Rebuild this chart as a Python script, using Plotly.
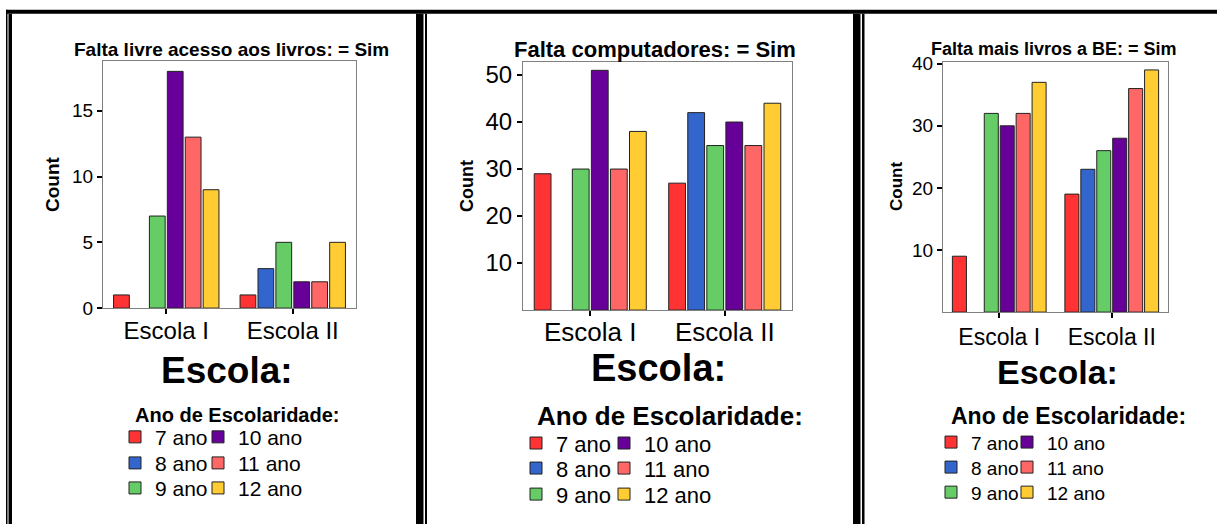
import plotly.graph_objects as go

W, H = 1217, 536

# ---------------- data ----------------
schools = ["Escola I", "Escola II"]
grades = ["7 ano", "8 ano", "9 ano", "10 ano", "11 ano", "12 ano"]
colors = ["#FF3333", "#3366CC", "#66CC66", "#660099", "#FF6666", "#FFCC33"]

titles = ["Falta livre acesso aos livros: = Sim",
          "Falta computadores: = Sim",
          "Falta mais livros a BE: = Sim"]

# counts per grade (7..12 ano); None = no bar
acesso_escola1 = [1, None, 7, 18, 13, 9]
acesso_escola2 = [1, 3, 5, 2, 2, 5]
comput_escola1 = [29, None, 30, 51, 30, 38]
comput_escola2 = [27, 42, 35, 40, 35, 44]
livros_escola1 = [9, None, 32, 30, 32, 37]
livros_escola2 = [19, 23, 26, 28, 36, 39]

ticks_acesso = [0, 5, 10, 15]
ticks_comput = [10, 20, 30, 40, 50]
ticks_livros = [10, 20, 30, 40]

y_label = "Count"
x_label = "Escola:"
legend_label = "Ano de Escolaridade:"

panel_data = [(acesso_escola1, acesso_escola2),
              (comput_escola1, comput_escola2),
              (livros_escola1, livros_escola2)]
panel_ticks = [ticks_acesso, ticks_comput, ticks_livros]

# ---------------- layout (pixels) ----------------
FONT = "Liberation Sans, Arial, sans-serif"

# the page is photographed with a small vertical offset/scale; positions
# below are given in picture pixels and mapped to figure pixels here
OY, SY = 8.2, 0.9636


def px(x):
    return x / W


def py(y):
    return 1 - ((y - OY) / SY) / H


panels = [
    dict(x0=103, x1=356, y0=61, y1=308, yr=18.8,
         title=(232, 50, 19), count=(53, 184, 19), xlab=(227, 370, 37),
         tick=19, xtick=24, xstand=-4, legt=(133, 415, 20), leg_font=21,
         sq1=129, sq2=212, rows=[437, 463, 488]),
    dict(x0=523, x1=792, y0=62, y1=310, yr=52.8,
         title=(655, 50, 22), count=(467, 186, 18), xlab=(658, 368, 38),
         tick=24, xtick=26, xstand=-6, legt=(535, 416, 26), leg_font=22,
         sq1=530, sq2=618, rows=[443, 468, 494]),
    dict(x0=943, x1=1168, y0=62, y1=312, yr=40.3,
         title=(1054, 49, 18), count=(897, 187, 17), xlab=(1057, 372, 34),
         tick=19, xtick=23, xstand=-1, legt=(949, 416, 23), leg_font=19,
         sq1=945, sq2=1021, rows=[442, 467, 492]),
]

fig = go.Figure()
annotations = []
shapes = []

for p, cfg in enumerate(panels):
    xa = "x" if p == 0 else f"x{p + 1}"
    ya = "y" if p == 0 else f"y{p + 1}"
    e1, e2 = panel_data[p]
    for i, g in enumerate(grades):
        row, col = i % 3, i // 3
        lid = 6 * p + 2 * row + col + 1
        lname = "legend" if lid == 1 else f"legend{lid}"
        fig.add_trace(go.Bar(
            x=schools, y=[e1[i], e2[i]], name=g,
            marker=dict(color=colors[i], line=dict(color="#222222", width=1)),
            xaxis=xa, yaxis=ya, legend=lname, showlegend=True,
            hovertemplate="%{x}<br>" + g + ": %{y}<extra></extra>",
        ))
        sq = cfg["sq1"] if col == 0 else cfg["sq2"]
        fig.update_layout(**{lname: dict(
            orientation="v", x=px(sq - 14), xanchor="left",
            y=py(cfg["rows"][row]), yanchor="middle",
            font=dict(family=FONT, size=cfg["leg_font"], color="black"),
            itemwidth=30, bgcolor="rgba(0,0,0,0)", borderwidth=0,
        )})

    xkey = "xaxis" if p == 0 else f"xaxis{p + 1}"
    ykey = "yaxis" if p == 0 else f"yaxis{p + 1}"
    fig.update_layout(**{
        xkey: dict(domain=[px(cfg["x0"]), px(cfg["x1"])], anchor=ya,
                   type="category", showline=True, linecolor="#808080",
                   linewidth=1, mirror=True, ticks="outside", ticklen=5,
                   tickwidth=2, tickcolor="black", showgrid=False,
                   zeroline=False, ticklabelstandoff=cfg["xstand"],
                   tickfont=dict(family=FONT, size=cfg["xtick"], color="black")),
        ykey: dict(domain=[py(cfg["y1"]), py(cfg["y0"])], anchor=xa,
                   range=[0, cfg["yr"]], tickmode="array",
                   tickvals=panel_ticks[p], showline=True,
                   linecolor="#808080", linewidth=1, mirror=True,
                   ticks="outside", ticklen=5, tickwidth=2, tickcolor="black",
                   showgrid=False, zeroline=False,
                   tickfont=dict(family=FONT, size=cfg["tick"], color="black")),
    })

    tx, ty, ts = cfg["title"]
    annotations.append(dict(text=f"<b>{titles[p]}</b>", x=px(tx), y=py(ty),
                            xref="paper", yref="paper", showarrow=False,
                            xanchor="center", yanchor="middle",
                            font=dict(family=FONT, size=ts, color="black")))
    cx, cy, cs = cfg["count"]
    annotations.append(dict(text=f"<b>{y_label}</b>", x=px(cx), y=py(cy),
                            xref="paper", yref="paper", showarrow=False,
                            textangle=-90, xanchor="center", yanchor="middle",
                            font=dict(family=FONT, size=cs, color="black")))
    lx, ly, ls = cfg["xlab"]
    annotations.append(dict(text=f"<b>{x_label}</b>", x=px(lx), y=py(ly),
                            xref="paper", yref="paper", showarrow=False,
                            xanchor="center", yanchor="middle",
                            font=dict(family=FONT, size=ls, color="black")))
    gx, gy, gs = cfg["legt"]
    annotations.append(dict(text=f"<b>{legend_label}</b>", x=px(gx), y=py(gy),
                            xref="paper", yref="paper", showarrow=False,
                            xanchor="left", yanchor="middle",
                            font=dict(family=FONT, size=gs, color="black")))


def rect(x0, x1, y0, y1):
    shapes.append(dict(type="rect", xref="paper", yref="paper",
                       x0=px(x0), x1=px(x1), y0=py(y1), y1=py(y0),
                       fillcolor="black", line=dict(width=0), layer="above"))


# frame: top rule and double vertical separators
BOTTOM = 560
rect(6, W + 5, 10, 14)
rect(6, 7.5, 10, BOTTOM)
rect(8.5, 12, 14, BOTTOM)
rect(416, 423.5, 14, BOTTOM)
rect(425, 427, 14, BOTTOM)
rect(853, 860.5, 14, BOTTOM)
rect(862, 864.5, 14, BOTTOM)

fig.update_layout(
    width=W, height=H, margin=dict(l=0, r=0, t=0, b=0),
    paper_bgcolor="white", plot_bgcolor="white",
    barmode="group", bargap=0.15, bargroupgap=0.12,
    annotations=annotations, shapes=shapes,
    font=dict(family=FONT, color="black"),
)

fig.write_html(
    "out.html",
    config={"displayModeBar": False},
    post_script="document.body.style.margin='0';"
                "document.body.style.padding='0';"
                "document.body.style.overflow='hidden';",
)
